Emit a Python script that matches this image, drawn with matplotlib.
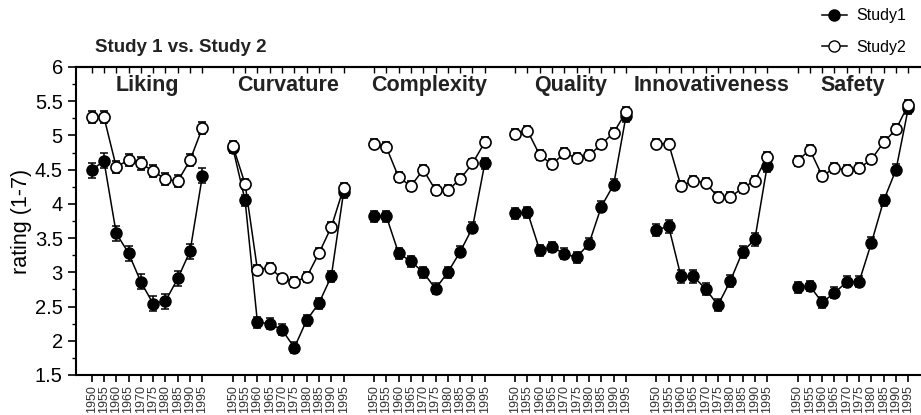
import matplotlib.pyplot as plt
import numpy as np

plt.rcParams['font.family'] = ['Liberation Sans', 'DejaVu Sans']

years = [1950, 1955, 1960, 1965, 1970, 1975, 1980, 1985, 1990, 1995]
panels = ['Liking', 'Curvature', 'Complexity', 'Quality', 'Innovativeness', 'Safety']

liking_s1 = [4.49, 4.63, 3.57, 3.28, 2.86, 2.54, 2.58, 2.91, 3.31, 4.41]
liking_s2 = [5.27, 5.27, 4.54, 4.64, 4.59, 4.48, 4.36, 4.33, 4.64, 5.11]
curv_s1 = [4.82, 4.05, 2.27, 2.25, 2.16, 1.90, 2.30, 2.55, 2.94, 4.17]
curv_s2 = [4.85, 4.29, 3.04, 3.07, 2.91, 2.86, 2.93, 3.28, 3.66, 4.23]
compl_s1 = [3.82, 3.82, 3.28, 3.16, 3.00, 2.76, 3.00, 3.30, 3.65, 4.59]
compl_s2 = [4.88, 4.83, 4.39, 4.26, 4.50, 4.20, 4.20, 4.36, 4.59, 4.90]
qual_s1 = [3.86, 3.88, 3.32, 3.37, 3.27, 3.22, 3.42, 3.96, 4.28, 5.28]
qual_s2 = [5.02, 5.07, 4.71, 4.58, 4.74, 4.67, 4.71, 4.87, 5.04, 5.34]
innov_s1 = [3.62, 3.67, 2.94, 2.94, 2.76, 2.52, 2.87, 3.30, 3.48, 4.55]
innov_s2 = [4.88, 4.88, 4.26, 4.34, 4.31, 4.10, 4.10, 4.23, 4.34, 4.69]
safety_s1 = [2.78, 2.80, 2.56, 2.70, 2.86, 2.86, 3.43, 4.05, 4.50, 5.40]
safety_s2 = [4.63, 4.79, 4.41, 4.52, 4.50, 4.52, 4.65, 4.90, 5.09, 5.45]

# standard errors per panel (roughly constant within a panel)
sem_s1 = [0.11, 0.08, 0.08, 0.08, 0.09, 0.08]
sem_s2 = [0.09, 0.07, 0.07, 0.07, 0.07, 0.07]

study1 = [liking_s1, curv_s1, compl_s1, qual_s1, innov_s1, safety_s1]
study2 = [liking_s2, curv_s2, compl_s2, qual_s2, innov_s2, safety_s2]

step = 11.47  # distance between panel starts, in year-slots

fig = plt.figure(figsize=(9.21, 4.15), dpi=100)
ax = fig.add_axes([0.0825, 0.0964, 0.9175, 0.7422])

all_x = []
for p in range(len(panels)):
    x = p * step + np.arange(len(years))
    all_x.extend(x)
    ax.errorbar(x, study1[p], yerr=sem_s1[p], color='black', marker='o', ms=8,
                mfc='black', mec='black', lw=1.1, elinewidth=1.1, capsize=3,
                capthick=1.1, zorder=2)
    ax.errorbar(x, study2[p], yerr=sem_s2[p], color='black', marker='o', ms=8,
                mfc='white', mec='black', mew=1.2, lw=1.1, elinewidth=1.1,
                capsize=3, capthick=1.1, zorder=3)
    ax.text(p * step + 4.5, 5.73, panels[p], ha='center', va='center',
            fontsize=15.5, fontweight='bold', color='#222222')

ax.set_xlim(-1.27, 5 * step + 9 + 1.03)
ax.set_ylim(1.5, 6)
ax.set_yticks(np.arange(1.5, 6.01, 0.5))
ax.set_yticklabels(['1.5', '2', '2.5', '3', '3.5', '4', '4.5', '5', '5.5', '6'])
ax.set_yticks(np.arange(1.75, 6, 0.5), minor=True)
ax.set_xticks(all_x)
ax.set_xticklabels([str(y) for y in years] * len(panels), rotation=90,
                   fontsize=9, color='#333333')
ax.tick_params(axis='y', which='major', length=6, width=1.2, labelsize=14.5)
ax.tick_params(axis='y', which='minor', length=3, width=1)
ax.tick_params(axis='x', length=5, width=1.2, pad=2.5)
ax.spines['right'].set_visible(False)
for s in ['left', 'bottom', 'top']:
    ax.spines[s].set_linewidth(1.5)

# inward ticks on the top spine
top = ax.secondary_xaxis('top')
top.set_xticks(all_x)
top.set_xticklabels([])
top.tick_params(direction='in', length=4, width=1)
top.spines['top'].set_linewidth(1.5)

ax.set_ylabel('rating (1-7)', fontsize=15.5, labelpad=2)

fig.text(0.103, 0.885, 'Study 1 vs. Study 2', fontsize=13.5, fontweight='bold',
         va='center', ha='left', color='#222222')

h1 = plt.Line2D([], [], color='black', marker='o', ms=8, mfc='black', lw=1.1)
h2 = plt.Line2D([], [], color='black', marker='o', ms=8, mfc='white', lw=1.1)
fig.legend([h1, h2], ['Study1', 'Study2'], loc='upper right',
           bbox_to_anchor=(1.0, 1.015), frameon=False, fontsize=11.5,
           handlelength=1.6, labelspacing=1.05, handletextpad=0.6)

plt.savefig('out.png', dpi=100)
